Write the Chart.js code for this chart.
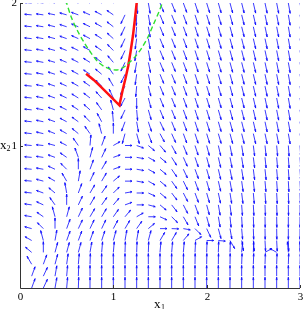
<!DOCTYPE html>
<html>
<head>
<meta charset="utf-8">
<script src="https://cdn.jsdelivr.net/npm/chart.js@4.4.0/dist/chart.umd.min.js"></script>
<style>
  html, body { margin: 0; padding: 0; background: #fff; }
</style>
</head>
<body>
<canvas id="chart" width="304" height="309"></canvas>
<script>
// grid of the direction field
const xGrid = [0, 0.125, 0.25, 0.375, 0.5, 0.625, 0.75, 0.875, 1, 1.125, 1.25, 1.375, 1.5,
               1.625, 1.75, 1.875, 2, 2.125, 2.25, 2.375, 2.5, 2.625, 2.75, 2.875, 3];
// rows listed top to bottom
const yGrid = [2, 1.9167, 1.8333, 1.75, 1.6667, 1.5833, 1.5, 1.4167, 1.3333, 1.25, 1.1667, 1.0833,
               1, 0.9167, 0.8333, 0.75, 0.6667, 0.5833, 0.5, 0.4167, 0.3333, 0.25, 0.1667, 0.0833, 0];

// on-screen direction of each arrow, degrees (0 = right, 90 = up), one row per yGrid entry
const fieldAngles = [
  [90,175,172,168,165,162,158,154,148,125,-85,-80, -68,-68,-70,-72,-73,-74,-75,-76,-77,-78,-79,-80,-80],
  [90,175,172,168,164,160,156,152,145,-115,-92,-80, -68,-68,-70,-72,-73,-74,-75,-76,-77,-78,-79,-80,-80],
  [90,174,171,166,162,158,154,150,142,-115,-95,-80, -68,-68,-70,-72,-73,-74,-75,-76,-77,-78,-79,-80,-80],
  [90,174,170,165,160,156,152,147,138,-115,-98,-80, -68,-68,-70,-72,-73,-74,-75,-76,-77,-78,-79,-80,-80],
  [90,174,170,164,158,154,150,145,134,-115,-100,-80, -68,-68,-70,-72,-73,-74,-75,-76,-77,-78,-79,-80,-80],
  [90,174,169,163,157,152,148,142,130,-115,-100,-78, -68,-68,-70,-72,-73,-74,-75,-76,-77,-78,-79,-80,-80],
  [90,174,169,162,156,151,146,140,125,-115,-98,-78, -68,-68,-70,-72,-73,-74,-75,-76,-77,-78,-79,-80,-80],
  [90,174,168,161,155,150,144,135,120,-118,-95,-76, -68,-68,-70,-72,-73,-74,-75,-76,-77,-78,-79,-80,-80],
  [90,174,168,160,154,148,142,132,115,-118,-90,-75, -68,-68,-70,-72,-73,-74,-75,-76,-77,-78,-79,-80,-80],
  [90,174,168,160,153,146,138,125,105,-115,-85,-74, -68,-68,-70,-72,-73,-74,-75,-76,-77,-78,-79,-80,-80],
  [90,174,168,160,152,144,134,118,95,-110,-80,-72, -65,-68,-70,-72,-73,-74,-75,-76,-77,-78,-79,-80,-80],
  [90,174,167,158,150,140,125,105,90,-105,-75,-70, -62,-66,-70,-72,-73,-74,-75,-76,-77,-78,-79,-80,-80],
  [90,175,174,165,152,125,85,70,30,0,-20,-40, -50,-62,-68,-72,-75,-77,-79,-81,-83,-84,-85,-86,-86],
  [90,175,172,160,145,110,75,65,20,0,-10,-30, -40,-58,-66,-71,-75,-77,-79,-81,-83,-84,-85,-86,-86],
  [90,175,170,155,135,90,70,60,20,0,-10,-30, -40,-56,-65,-70,-74,-77,-79,-81,-83,-84,-85,-86,-86],
  [90,175,165,150,120,80,65,60,40,0,-10,-30, -40,-55,-64,-70,-74,-77,-80,-82,-84,-85,-86,-87,-87],
  [90,174,160,140,100,70,60,55,45,10,0,-25, -40,-53,-63,-70,-74,-78,-81,-83,-85,-86,-87,-88,-88],
  [90,172,155,125,90,65,60,55,50,20,0,-15, -40,-52,-63,-70,-75,-80,-83,-86,-87,-88,-88,-89,-89],
  [90,170,145,105,75,65,60,60,55,50,30,0, -25,-45,-60,-68,-75,-80,-84,-87,-88,-89,-89,-90,-90],
  [90,165,135,90,70,65,65,65,62,60,55,40, 0,-2,-10,-45,-65,-75,-80,-85,-88,-89,-89,-90,-90],
  [90,150,105,80,70,70,70,72,75,80,80,75, 60,60,50,30,0,-5,-60,-80,-85,-87,-87,-88,-88],
  [90,140,90,75,75,75,80,85,85,88,88,88, 85,85,85,87,88,88,88,85,88,30,150,95,90],
  [90,120,70,75,82,85,88,90,90,90,90,90, 90,90,89,89,89,89,89,88,88,88,88,88,88],
  [90,70,65,80,85,88,90,90,90,90,90,90, 90,90,90,90,90,90,90,90,90,90,90,90,90],
  [90,70,65,80,85,88,90,90,90,90,90,90, 90,90,90,90,90,90,90,90,90,90,90,90,90]
];
const arrowLen = 0.075;   // data units, like quiver autoscale

// red trajectory
const redX = [0.708, 0.79, 0.87, 0.97, 1.065, 1.10, 1.13, 1.16, 1.185, 1.21, 1.23, 1.25, 1.255];
const redY = [1.504, 1.46, 1.41, 1.345, 1.282, 1.39, 1.47, 1.56, 1.66, 1.77, 1.88, 2.0, 2.03];

// green dashed curve
const greenX = [0.49, 0.55, 0.62, 0.69, 0.76, 0.83, 0.90, 0.97, 1.04, 1.10, 1.16, 1.23, 1.30, 1.37, 1.43, 1.49, 1.53];
const greenY = [2.02, 1.90, 1.80, 1.72, 1.65, 1.59, 1.555, 1.535, 1.53, 1.545, 1.575, 1.62, 1.68, 1.76, 1.85, 1.94, 2.01];

const xTicks = [0, 1, 2, 3];
const xTickLabels = ['0', '1', '2', '3'];
const yTicks = [1, 2];
const yTickLabels = ['1', '2'];

/* -------- ARROWS -------- */
const quiverPlugin = {
    id: 'quiver',
    beforeDatasetsDraw(chart) {
        const { ctx, chartArea: a, scales: { x, y } } = chart;
        const pxX = x.getPixelForValue(1) - x.getPixelForValue(0);
        const pxY = y.getPixelForValue(0) - y.getPixelForValue(1);
        const alpha = 0.26, beta = 0.3;   // head size

        ctx.save();
        ctx.beginPath();
        ctx.rect(a.left, a.top, a.right - a.left, a.bottom - a.top);
        ctx.clip();
        ctx.strokeStyle = '#0a0aff';
        ctx.lineWidth = 0.8;

        fieldAngles.forEach((row, r) => {
            row.forEach((deg, c) => {
                const t = deg * Math.PI / 180;
                let u = Math.cos(t) / pxX, v = Math.sin(t) / pxY;
                const n = Math.hypot(u, v);
                u = u / n * arrowLen;
                v = v / n * arrowLen;
                const x0 = xGrid[c], y0 = yGrid[r];
                const x1 = x0 + u, y1 = y0 + v;
                const pts = [
                    [x0, y0], [x1, y1],
                    [x1 - alpha * (u + beta * v), y1 - alpha * (v - beta * u)],
                    [x1 - alpha * (u - beta * v), y1 - alpha * (v + beta * u)]
                ].map(p => [x.getPixelForValue(p[0]), y.getPixelForValue(p[1])]);
                ctx.beginPath();
                ctx.moveTo(pts[0][0], pts[0][1]);
                ctx.lineTo(pts[1][0], pts[1][1]);
                ctx.moveTo(pts[2][0], pts[2][1]);
                ctx.lineTo(pts[1][0], pts[1][1]);
                ctx.lineTo(pts[3][0], pts[3][1]);
                ctx.stroke();
            });
        });
        ctx.restore();
    }
};

/* -------- AXES, TICKS, LABELS -------- */
const axesPlugin = {
    id: 'axesLines',
    afterDatasetsDraw(chart) {
        const { ctx, chartArea: a, scales: { x, y } } = chart;
        ctx.save();
        ctx.strokeStyle = '#333';
        ctx.lineWidth = 1;
        ctx.beginPath();
        ctx.moveTo(a.left + 0.5, a.top);
        ctx.lineTo(a.left + 0.5, a.bottom + 0.5);
        ctx.lineTo(a.right, a.bottom + 0.5);
        ctx.stroke();

        ctx.fillStyle = '#000';
        ctx.font = '11px "Liberation Serif", serif';
        ctx.textAlign = 'center';
        ctx.textBaseline = 'top';
        xTicks.forEach((v, k) => {
            const px = Math.round(x.getPixelForValue(v)) + 0.5;
            ctx.beginPath();
            ctx.moveTo(px, a.bottom);
            ctx.lineTo(px, a.bottom - 3);
            ctx.stroke();
            ctx.fillText(xTickLabels[k], px, a.bottom + 4);
        });
        ctx.textAlign = 'right';
        ctx.textBaseline = 'middle';
        yTicks.forEach((v, k) => {
            const py = Math.round(y.getPixelForValue(v)) + 0.5;
            ctx.beginPath();
            ctx.moveTo(a.left, py);
            ctx.lineTo(a.left + 3, py);
            ctx.stroke();
            ctx.fillText(yTickLabels[k], a.left - 3, py);
        });

        // axis names x1, x2
        ctx.textAlign = 'left';
        ctx.textBaseline = 'alphabetic';
        const xm = x.getPixelForValue(1.5);
        ctx.font = '13px "Liberation Serif", serif';
        ctx.fillText('x', xm - 6, a.bottom + 20);
        ctx.font = '8px "Liberation Serif", serif';
        ctx.fillText('1', xm + 1, a.bottom + 22);
        const ym = y.getPixelForValue(1);
        ctx.font = '13px "Liberation Serif", serif';
        ctx.fillText('x', 0, ym + 3);
        ctx.font = '8px "Liberation Serif", serif';
        ctx.fillText('2', 6.5, ym + 5);
        ctx.restore();
    }
};

new Chart(document.getElementById('chart'), {
    type: 'scatter',
    data: {
        datasets: [
            {
                data: greenX.map((v, k) => ({ x: v, y: greenY[k] })),
                showLine: true,
                borderColor: '#2fe02f',
                borderWidth: 1.4,
                borderDash: [5, 3],
                pointRadius: 0,
                tension: 0.3
            },
            {
                data: redX.map((v, k) => ({ x: v, y: redY[k] })),
                showLine: true,
                borderColor: '#ff1010',
                borderWidth: 2.5,
                pointRadius: 0
            }
        ]
    },
    options: {
        responsive: false,
        animation: false,
        devicePixelRatio: 1,
        layout: { padding: { left: 20, right: 4, top: 3, bottom: 21 } },
        scales: {
            x: { type: 'linear', min: 0, max: 3, display: false },
            y: { type: 'linear', min: 0, max: 2, display: false }
        },
        plugins: { legend: { display: false }, tooltip: { enabled: false } }
    },
    plugins: [quiverPlugin, axesPlugin]
});
</script>
</body>
</html>
